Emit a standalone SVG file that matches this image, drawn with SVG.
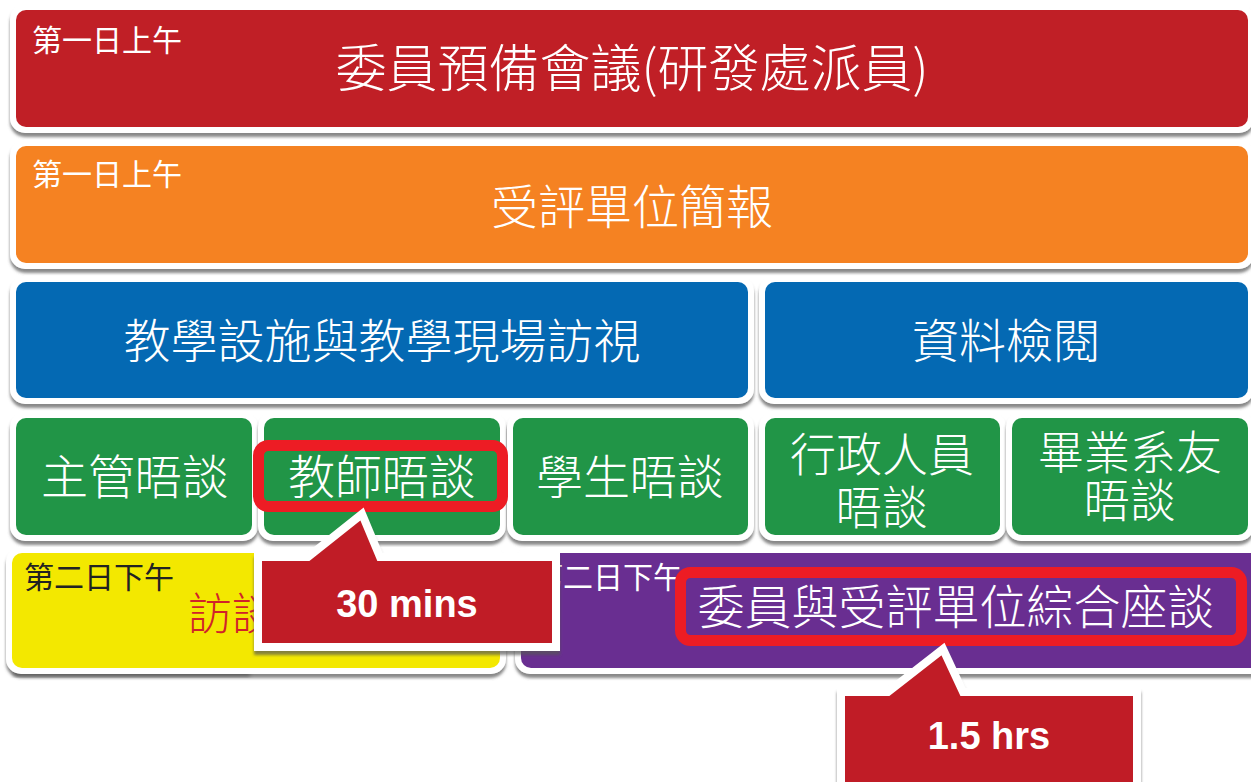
<svg xmlns="http://www.w3.org/2000/svg" width="1251" height="782" viewBox="0 0 1251 782">
<defs>
<filter id="sh" x="-5%" y="-20%" width="110%" height="150%">
<feGaussianBlur in="SourceAlpha" stdDeviation="1.8"/>
<feOffset dy="4" result="b"/>
<feFlood flood-color="#555" flood-opacity="0.7"/>
<feComposite in2="b" operator="in"/>
<feMerge><feMergeNode/><feMergeNode in="SourceGraphic"/></feMerge>
</filter>
<filter id="blur"><feGaussianBlur stdDeviation="2"/></filter>
</defs>
<style>
.frame{fill:#fff;filter:url(#sh);}
.t{font-family:"Noto Sans CJK TC","Noto Sans CJK SC",sans-serif;fill:#fff;text-anchor:middle;font-size:47px;font-weight:300;}
.lab{font-family:"Noto Sans CJK TC","Noto Sans CJK SC",sans-serif;font-size:30px;font-weight:400;fill:#fff;}
.hl{fill:none;stroke:#ED1C24;stroke-width:11;}
.co{fill:#C01F26;stroke:#fff;stroke-width:8;filter:url(#sh);}
.ct{font-family:"Liberation Sans",Arial,sans-serif;font-weight:bold;font-size:38px;fill:#fff;text-anchor:middle;}
</style>
<rect width="1251" height="782" fill="#fff"/>

<g id="n-red">
<rect class="frame" x="10" y="4" width="1244" height="129" rx="15"/>
<rect x="16" y="10" width="1232" height="117" rx="10" fill="#C01F26"/>
<text class="lab" x="32" y="51">第一日上午</text>
<text class="t" x="632" y="87" style="font-size:51px">委員預備會議(研發處派員)</text>
</g>

<g id="n-orange">
<rect class="frame" x="10" y="140" width="1244" height="129" rx="15"/>
<rect x="16" y="146" width="1232" height="117" rx="10" fill="#F58222"/>
<text class="lab" x="32" y="185">第一日上午</text>
<text class="t" x="632" y="224">受評單位簡報</text>
</g>

<g id="n-blue1">
<rect class="frame" x="10" y="276" width="744" height="128" rx="15"/>
<rect x="16" y="282" width="732" height="116" rx="10" fill="#0469B3"/>
<text class="t" x="382" y="358">教學設施與教學現場訪視</text>
</g>

<g id="n-blue2">
<rect class="frame" x="759" y="276" width="495" height="128" rx="15"/>
<rect x="765" y="282" width="483" height="116" rx="10" fill="#0469B3"/>
<text class="t" x="1006" y="358">資料檢閱</text>
</g>

<g id="n-g1">
<rect class="frame" x="10" y="412" width="248" height="129" rx="15"/>
<rect x="16" y="418" width="236" height="117" rx="10" fill="#219547"/>
<text class="t" x="135" y="494">主管晤談</text>
</g>

<g id="n-g2">
<rect class="frame" x="258" y="412" width="248" height="129" rx="15"/>
<rect x="264" y="418" width="236" height="117" rx="10" fill="#219547"/>
<text class="t" x="382" y="494">教師晤談</text>
</g>

<g id="n-g3">
<rect class="frame" x="507" y="412" width="247" height="129" rx="15"/>
<rect x="513" y="418" width="235" height="117" rx="10" fill="#219547"/>
<text class="t" x="630" y="494">學生晤談</text>
</g>

<g id="n-g4">
<rect class="frame" x="759" y="412" width="247" height="129" rx="15"/>
<rect x="765" y="418" width="235" height="117" rx="10" fill="#219547"/>
<text class="t" x="882" y="471" style="font-size:46px"><tspan x="882" y="471">行政人員</tspan><tspan x="882" y="524">晤談</tspan></text>
</g>

<g id="n-g5">
<rect class="frame" x="1006" y="412" width="248" height="129" rx="15"/>
<rect x="1012" y="418" width="236" height="117" rx="10" fill="#219547"/>
<text class="t" x="1130" y="469" style="font-size:46px"><tspan x="1130" y="469">畢業系友</tspan><tspan x="1130" y="517">晤談</tspan></text>
</g>

<g id="n-yellow">
<rect x="14" y="660" width="236" height="16" fill="#444" filter="url(#blur)" opacity="0.8"/>
<rect class="frame" x="6" y="547" width="500" height="127" rx="15"/>
<rect x="12" y="553" width="488" height="115" rx="10" fill="#F3E800"/>
<text class="lab" x="24" y="588" style="fill:#222">第二日下午</text>
<text class="t" x="188" y="630" style="fill:#D0222A;text-anchor:start;font-size:44px">訪談</text>
</g>

<g id="n-purple">
<rect class="frame" x="515" y="547" width="752" height="127" rx="15"/>
<rect x="521" y="553" width="740" height="115" rx="10" fill="#692E91"/>
<text class="lab" x="533" y="588">第二日下午</text>
<text class="t" x="956" y="624">委員與受評單位綜合座談</text>
</g>

<g id="highlights">
<rect class="hl" x="258.5" y="445.5" width="244" height="61" rx="10"/>
<rect class="hl" x="680.5" y="572.5" width="561" height="68" rx="10"/>
</g>

<g id="callout1">
<path class="co" d="M258,557 L308,557 L362,514 L380,557 L556,557 L556,647 L258,647 Z"/>
<text class="ct" x="407" y="617">30 mins</text>
</g>

<g id="callout2">
<path class="co" d="M841,692 L888,692 L943,649 L963,692 L1137,692 L1137,800 L841,800 Z"/>
<text class="ct" x="989" y="749">1.5 hrs</text>
</g>
</svg>
